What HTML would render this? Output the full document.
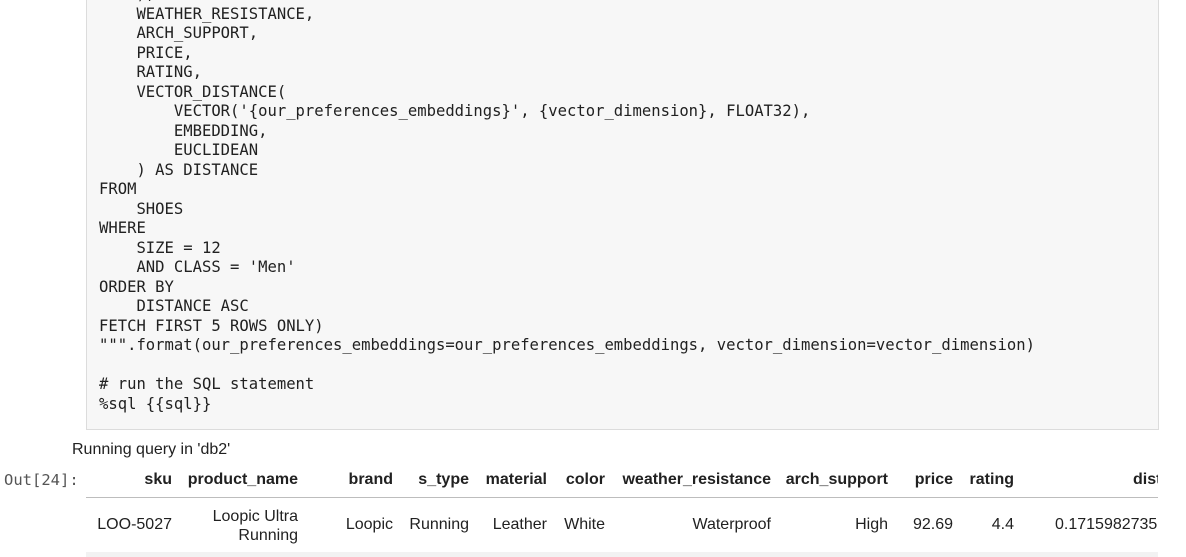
<!DOCTYPE html>
<html><head><meta charset="utf-8"><style>
body{margin:0;width:1186px;height:557px;overflow:hidden;background:#fff;position:relative;font-family:"Liberation Sans",sans-serif;color:#212121}
.cell{position:absolute;left:86px;top:-2px;width:1073px;height:432px;background:#f7f7f7;border:1px solid #dcdcdc;box-sizing:border-box}
pre{position:absolute;left:99px;top:-15px;margin:0;font-family:"DejaVu Sans Mono","Liberation Mono",monospace;font-size:15.55px;line-height:19.5px;color:#212121}
.t{position:absolute;white-space:nowrap;font-size:16px}
.h{font-weight:bold;top:471px}
.r{text-align:right}
</style></head><body>
<div class="cell"></div>
<pre>    ),
    WEATHER_RESISTANCE,
    ARCH_SUPPORT,
    PRICE,
    RATING,
    VECTOR_DISTANCE(
        VECTOR('{our_preferences_embeddings}', {vector_dimension}, FLOAT32),
        EMBEDDING,
        EUCLIDEAN
    ) AS DISTANCE
FROM
    SHOES
WHERE
    SIZE = 12
    AND CLASS = 'Men'
ORDER BY
    DISTANCE ASC
FETCH FIRST 5 ROWS ONLY)
""".format(our_preferences_embeddings=our_preferences_embeddings, vector_dimension=vector_dimension)

# run the SQL statement
%sql {{sql}}</pre>
<div class="t" style="left:72px;top:441px">Running query in 'db2'</div>
<div class="t" style="left:4px;top:471px;font-family:'DejaVu Sans Mono',monospace;font-size:15.5px;color:#555">Out[24]:</div>
<div style="position:absolute;left:86px;top:497px;width:1072px;height:1px;background:#bdbdbd"></div>
<div style="position:absolute;left:86px;top:552px;width:1072px;height:5px;background:#f2f2f2"></div>
<div class="t h" style="right:1014px">sku</div>
<div class="t h" style="right:888px">product_name</div>
<div class="t h" style="right:793px">brand</div>
<div class="t h" style="right:717px">s_type</div>
<div class="t h" style="right:639px">material</div>
<div class="t h" style="right:581px">color</div>
<div class="t h" style="right:415px">weather_resistance</div>
<div class="t h" style="right:298px">arch_support</div>
<div class="t h" style="right:233px">price</div>
<div class="t h" style="right:172px">rating</div>
<div class="t h" style="left:1133px;width:25px;overflow:hidden">distance</div>
<div class="t" style="right:1014px;top:516px">LOO-5027</div>
<div class="t r" style="right:888px;top:507px;line-height:19px">Loopic Ultra<br>Running</div>
<div class="t" style="right:793px;top:516px">Loopic</div>
<div class="t" style="right:717px;top:516px">Running</div>
<div class="t" style="right:639px;top:516px">Leather</div>
<div class="t" style="right:581px;top:516px">White</div>
<div class="t" style="right:415px;top:516px">Waterproof</div>
<div class="t" style="right:298px;top:516px">High</div>
<div class="t" style="right:233px;top:516px">92.69</div>
<div class="t" style="right:172px;top:516px">4.4</div>
<div class="t" style="left:1055px;top:516px;width:103px;overflow:hidden">0.17159827352</div>
</body></html>
